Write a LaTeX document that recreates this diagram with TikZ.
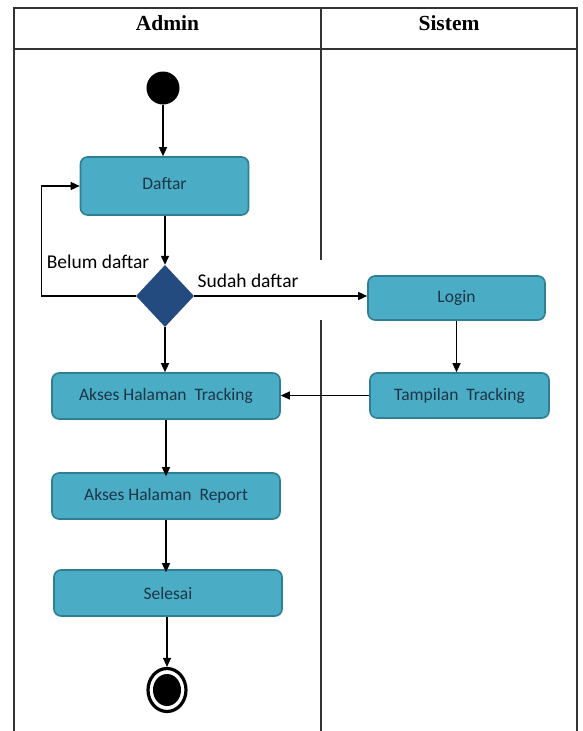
\documentclass[tikz,border=0pt]{standalone}
\usepackage{fontspec}
\setmainfont{Carlito}
\newfontfamily\headfont{Liberation Serif}
\usetikzlibrary{shapes.geometric,arrows.meta}

\definecolor{actfill}{HTML}{4BACC6}
\definecolor{actborder}{HTML}{2F7F94}
\definecolor{acttext}{HTML}{1C3645}
\definecolor{decfill}{HTML}{244B7F}
\definecolor{lanecol}{HTML}{333333}

\begin{document}
\begin{tikzpicture}[x=1pt,y=-1pt,
  act/.style={draw=actborder, fill=actfill, line width=1.6pt, rounded corners=7pt,
    font=\fontsize{17.5}{20}\selectfont, text=acttext, inner sep=0pt},
  flow/.style={-{Triangle[length=9pt,width=8pt]}, line width=1.3pt},
  lane/.style={line width=1.8pt, draw=lanecol},
  guard/.style={font=\fontsize{19.5}{23}\selectfont, text=black, inner sep=0pt},
  lanehead/.style={font=\headfont\bfseries\fontsize{21.5}{25}\selectfont, inner sep=0pt}]

\useasboundingbox (0,0) rectangle (582,731);

% swimlane frame
\draw[lane] (14,731) -- (14,8) -- (577,8) -- (577,731);
\draw[lane] (14,49) -- (577,49);
\draw[lane] (321,8) -- (321,260);
\draw[lane] (321,320) -- (321,731);
\node[lanehead] (hadmin) at (167.5,23) {Admin};
\node[lanehead] (hsistem) at (449,23) {Sistem};

% activities
\node[circle, fill=black, minimum size=33pt, inner sep=0pt] (start) at (163,88) {};
\node[act, minimum width=168pt, minimum height=58pt] (daftar) at (164.5,186) {\raisebox{6pt}{Daftar}};
\node[diamond, fill=decfill, minimum width=58pt, minimum height=62pt, inner sep=0pt] (dec) at (165,296) {};
\node[act, minimum width=177pt, minimum height=44pt] (login) at (456.5,298) {Login};
\node[act, minimum width=179pt, minimum height=45pt] (tampil) at (459.5,395.5) {Tampilan\ \ Tracking};
\node[act, minimum width=228pt, minimum height=46pt] (aksest) at (166,396) {Akses\ Halaman\ \ Tracking};
\node[act, minimum width=228pt, minimum height=46pt] (aksesr) at (166,496) {Akses\ Halaman\ \ Report};
\node[act, minimum width=228pt, minimum height=46pt] (selesai) at (168,593) {Selesai};
\node[ellipse, draw=black, line width=3.2pt, fill=white, minimum width=38pt, minimum height=43pt, inner sep=0pt] (finish) at (167,690) {};
\node[ellipse, fill=black, minimum width=28pt, minimum height=32pt, inner sep=0pt] (finishdot) at (finish.center) {};

% guards
\node[guard] (belum) at (98,262) {Belum daftar};
\node[guard] (sudah) at (248,281) {Sudah daftar};

% control flow
\draw[flow] (start.south) -- (start.south |- daftar.north);
\draw[flow] (daftar.south -| dec.north) -- (dec.north);
\draw[flow] (dec.west) -- ++(-94,0) |- (daftar.west);
\draw[flow] (dec.east) -- (dec.east -| login.west);
\draw[flow] (dec.south) -- (dec.south |- aksest.north);
\draw[flow] (login.south) -- (login.south |- tampil.north);
\draw[flow] (tampil.west) -- (tampil.west -| aksest.east);
\draw[flow] (aksest.south) -- ([yshift=-4pt]aksesr.north);
\draw[flow] (aksesr.south) -- ([yshift=-3pt]aksesr.south |- selesai.north);
\draw[flow] (selesai.south -| finish.north) -- (finish.north);
\end{tikzpicture}
\end{document}
